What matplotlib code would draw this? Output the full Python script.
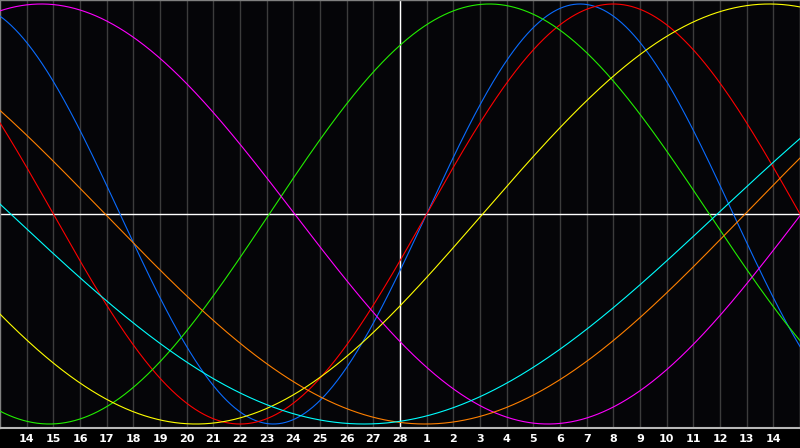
import numpy as np
import matplotlib
matplotlib.use("Agg")
import matplotlib.pyplot as plt

# day labels along the bottom (one per grid line)
day_labels = ["14", "15", "16", "17", "18", "19", "20", "21", "22", "23", "24",
              "25", "26", "27", "28", "1", "2", "3", "4", "5", "6", "7", "8",
              "9", "10", "11", "12", "13", "14"]

# cycles: name, period (days), position of the rising zero crossing (chart days)
cycle_names = ["physical", "emotional", "intellectual", "intuitive",
               "aesthetic", "awareness", "spiritual"]
cycle_periods = [23, 28, 33, 38, 43, 48, 53]
cycle_rise = [16.0, 16.0, 10.1, 30.05, 18.1, 27.94, 26.9]
cycle_colors = ["#0a6cff", "#ff0000", "#22ee00", "#ff00ff",
                "#ffff00", "#ff8000", "#00ffff"]

fig = plt.figure(figsize=(8, 4.48), dpi=100, facecolor="black")
ax = fig.add_axes([0, 20 / 448, 1, 428 / 448])
ax.set_facecolor("#050508")

n_days = len(day_labels) + 1
ax.set_xlim(0, n_days)
ax.set_ylim(-214 / 210, 214 / 210)

ticks = np.arange(1, n_days)
for x in ticks:
    ax.axvline(x, color="#3c3c3c", lw=1.0, zorder=1)
ax.axvline(n_days / 2, color="white", lw=1.0, zorder=2)
ax.axhline(0, color="white", lw=1.0, zorder=2)

t = np.linspace(0, n_days, 1200)
for name, p, r, c in zip(cycle_names, cycle_periods, cycle_rise, cycle_colors):
    ax.plot(t, np.sin(2 * np.pi * (t - r) / p), color=c, lw=0.8, zorder=3,
            label=name)

ax.set_xticks(ticks)
ax.set_xticklabels(day_labels, color="white", fontsize=8, fontweight="bold",
                   family="DejaVu Sans")
ax.tick_params(axis="x", length=0, pad=4)
ax.set_yticks([])

for side in ["left", "top", "right"]:
    ax.spines[side].set_color("#808080")
    ax.spines[side].set_linewidth(1.0)
ax.spines["bottom"].set_color("#b8b8b8")
ax.spines["bottom"].set_linewidth(1.5)

fig.savefig("out.png", dpi=100, facecolor="black")
